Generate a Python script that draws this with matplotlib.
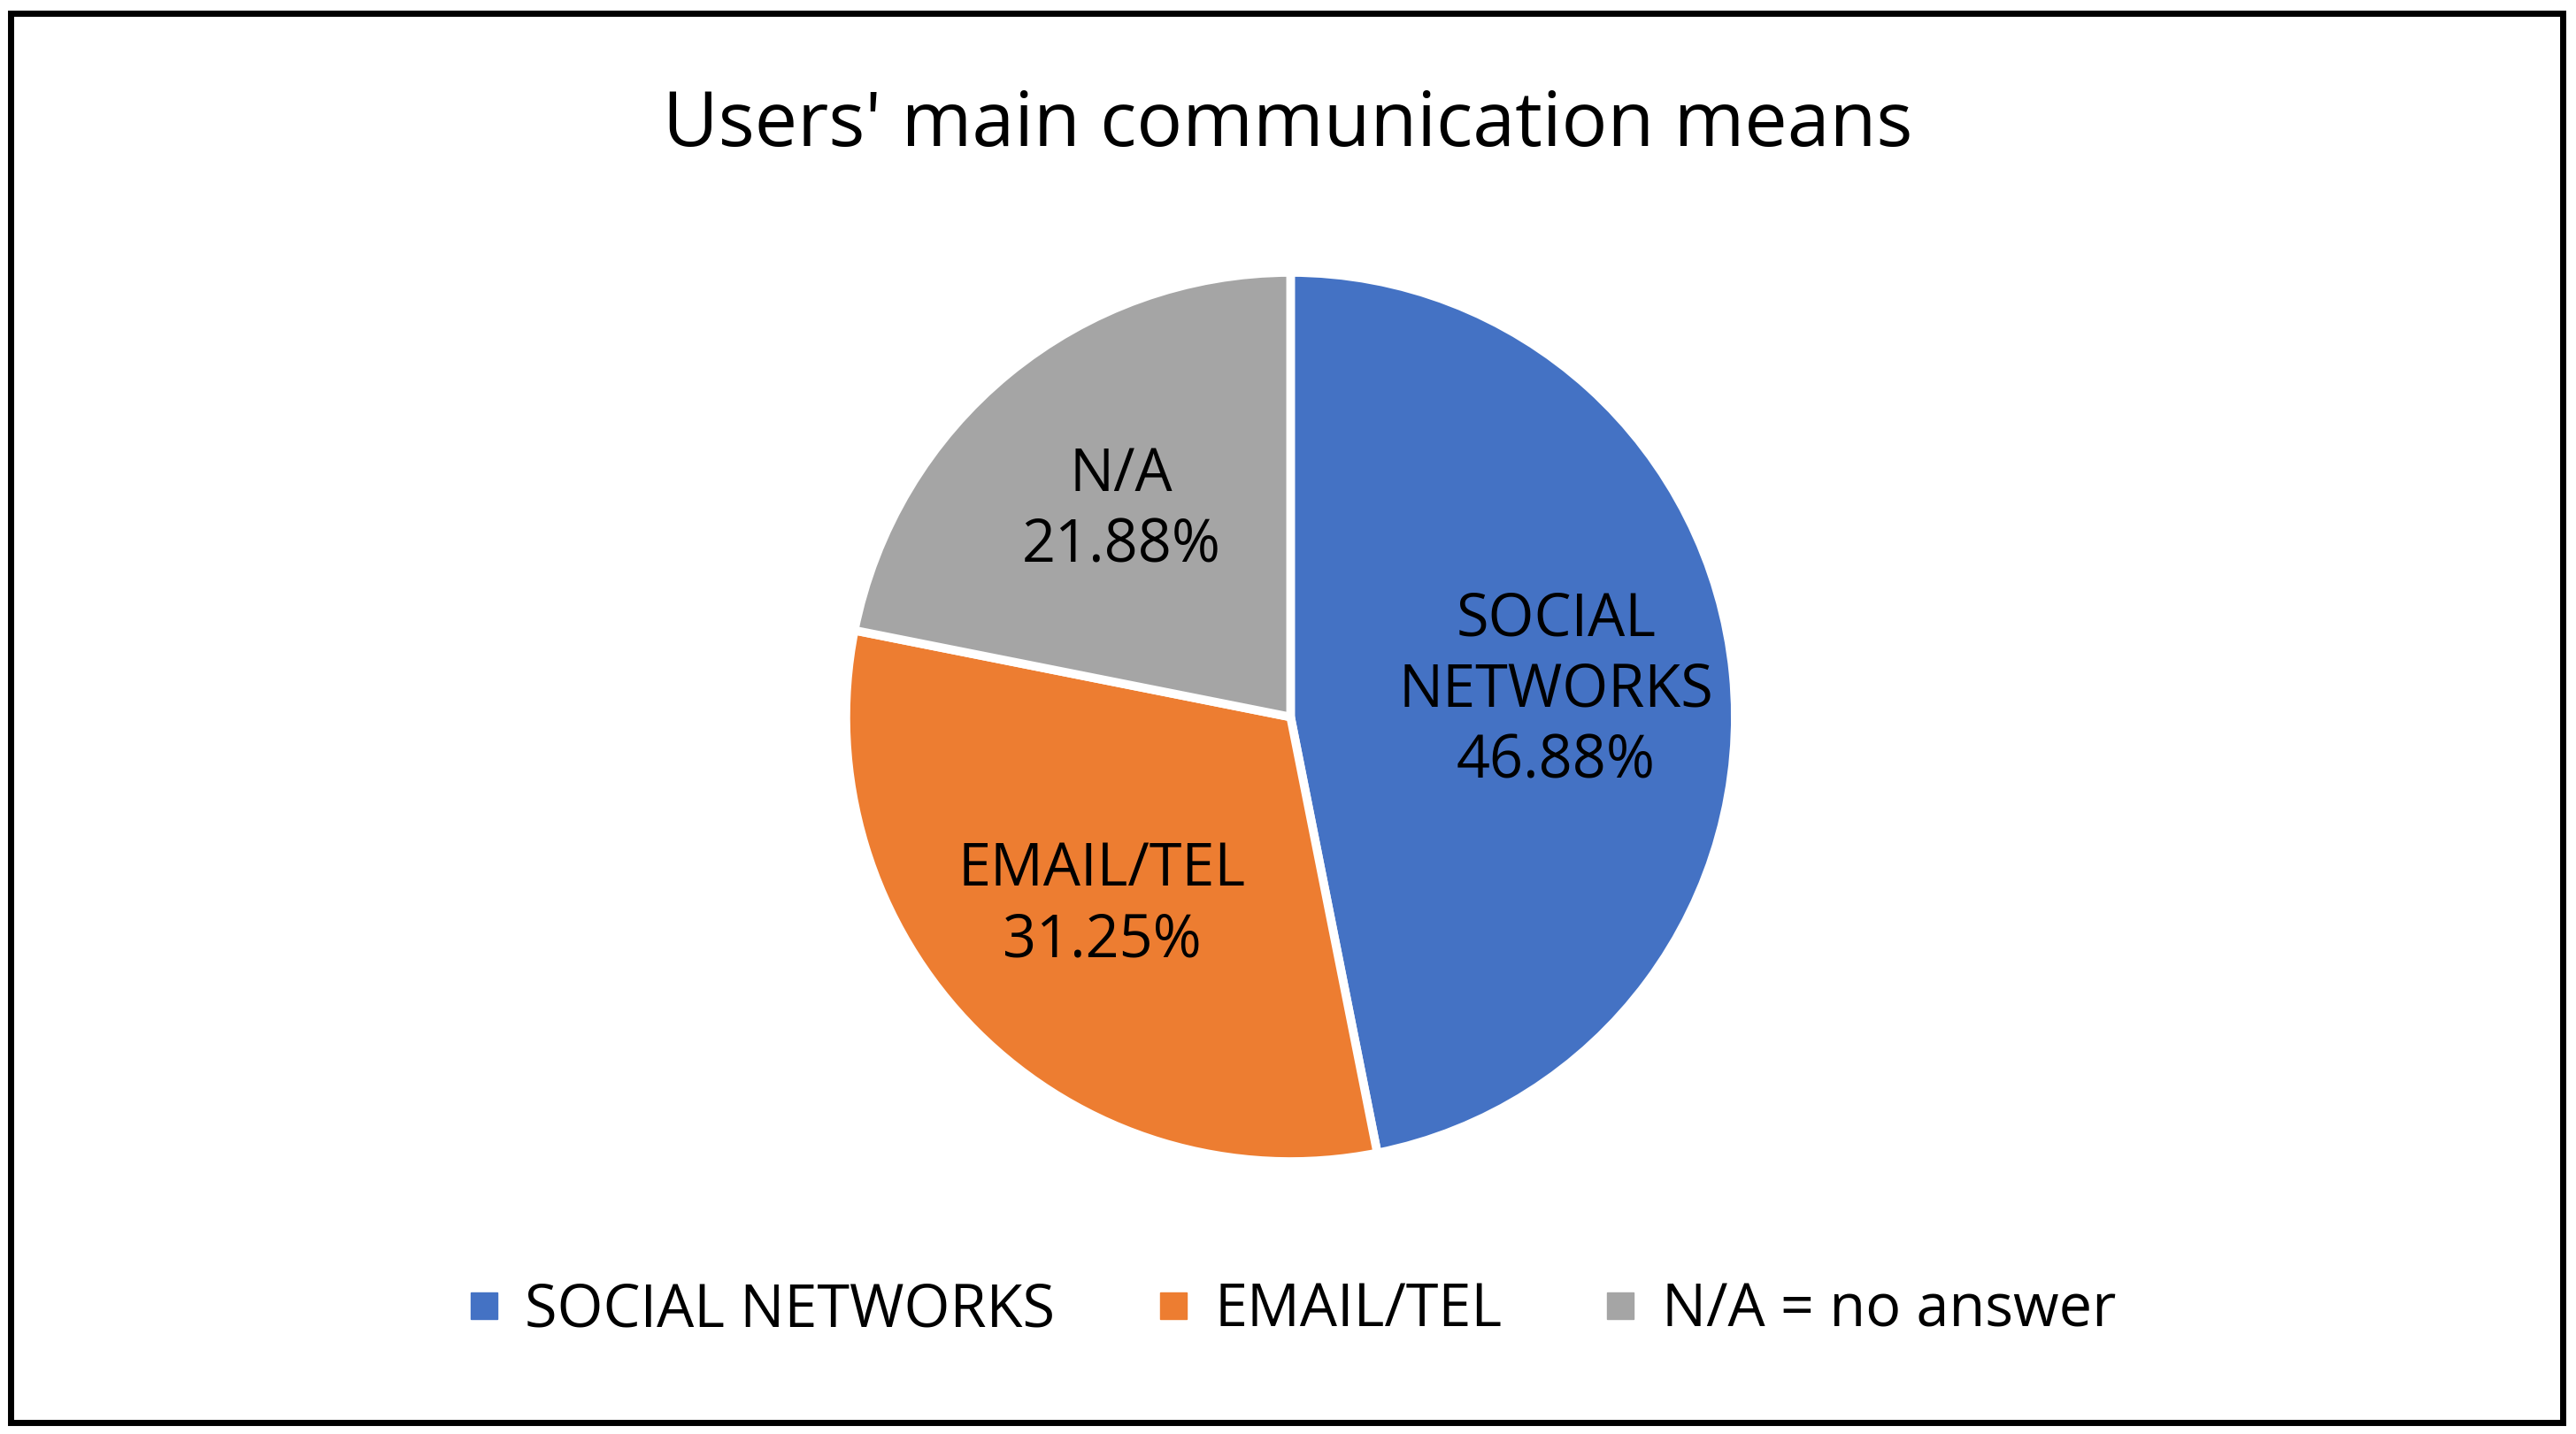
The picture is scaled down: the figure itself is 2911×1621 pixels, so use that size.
import matplotlib.pyplot as plt
from matplotlib.patches import Rectangle
from matplotlib.lines import Line2D

categories = ["SOCIAL\nNETWORKS", "EMAIL/TEL", "N/A"]
legend_labels = ["SOCIAL NETWORKS", "EMAIL/TEL", "N/A = no answer"]
shares = [46.88, 31.25, 21.88]
colors = ["#4472C4", "#ED7D31", "#A5A5A5"]

plt.rcParams["font.family"] = ["Open Sans", "DejaVu Sans"]

fig = plt.figure(figsize=(29.11, 16.21), dpi=100)
h = 0.62
w = h * 16.21 / 29.11
ax = fig.add_axes([0.501 - w / 2, 0.50 - h / 2, w, h])

labels = [f"{c}\n{v:.2f}%" for c, v in zip(categories, shares)]
wedges, texts = ax.pie(
    shares, colors=colors, startangle=90, counterclock=False,
    labels=labels, labeldistance=0.6,
    wedgeprops=dict(edgecolor="white", linewidth=7),
    textprops=dict(fontsize=48, ha="center", va="center", linespacing=1.25),
)
ax.set_xlim(-1.0, 1.0)
ax.set_ylim(-1.0, 1.0)
ax.set_aspect("equal")

fig.text(0.5, 0.912, "Users' main communication means", ha="center", va="center", fontsize=62)

handles = [Line2D([], [], marker="s", linestyle="none", markersize=22, color=c) for c in colors]
fig.legend(handles, legend_labels, loc="center", bbox_to_anchor=(0.5, 0.086), ncol=3,
           frameon=False, fontsize=48, handlelength=0.8, handletextpad=0.3, columnspacing=1.6)

fig.patches.append(Rectangle((0.004, 0.008), 0.991, 0.983, transform=fig.transFigure,
                             fill=False, edgecolor="black", linewidth=5))
fig.savefig("out.png")
